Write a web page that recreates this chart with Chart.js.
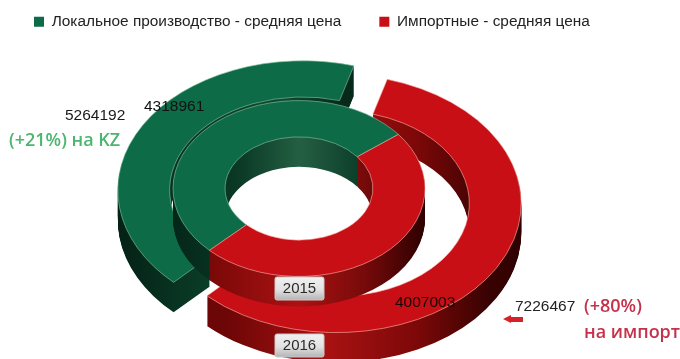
<!DOCTYPE html>
<html lang="ru">
<head>
<meta charset="utf-8">
<title>Средняя цена</title>
<script src="https://cdn.jsdelivr.net/npm/chart.js@4"></script>
<style>
  html, body { margin: 0; padding: 0; background: #fff; }
  #stage { position: relative; width: 680px; height: 359px; overflow: hidden; }
  #stage canvas { position: absolute; left: 0; top: 0; }
</style>
</head>
<body>
<div id="stage">
  <canvas id="ring2016" width="680" height="359"></canvas>
  <canvas id="ring2015" width="680" height="359"></canvas>
</div>
<script>
// Data
const categories = ['Локальное производство - средняя цена', 'Импортные - средняя цена'];
const values2015 = [4318961, 4007003];
const values2016 = [5264192, 7226467];
const yearLabels = ['2015', '2016'];
const changeLocal = ['(+21%) на KZ'];
const changeImport = ['(+80%)', 'на импорт'];

// Look of the solid rings
const GREEN = '#0e6b47', RED = '#c80f16';
const TILT = 0.698;      // vertical squash of the ring plane
const DEPTH = 30;        // height of the walls in px

const wall2016 = [
  [[118, '#031c12'], [215, '#0a3a26'], [300, '#0f4a31'], [360, '#07291b']],
  [[210, '#6d0606'], [310, '#a91212'], [400, '#7d0808'], [470, '#3a0202'], [521, '#2a0000']]
];
const wall2015 = [
  [[173, '#04261a'], [240, '#0b3a26'], [300, '#245f43'], [362, '#0b3d28']],
  [[210, '#7a0808'], [300, '#ab1212'], [365, '#760a0a'], [425, '#2e0000']]
];

function horizontalGradient(ctx, stops) {
  const x0 = stops[0][0], x1 = stops[stops.length - 1][0];
  const g = ctx.createLinearGradient(x0, 0, x1, 0);
  stops.forEach(([x, c]) => g.addColorStop((x - x0) / (x1 - x0), c));
  return g;
}

function flatOptions(fill) {
  return {
    backgroundColor: fill, borderColor: fill, borderWidth: 0, borderAlign: 'center',
    borderJoinStyle: 'round', borderRadius: 0, borderDash: [], borderDashOffset: 0,
    offset: 0, spacing: 0, circular: true
  };
}

// Paints one arc element on the tilted plane, lowered by `drop` px and pushed out by `explode` px
function paintArc(ctx, arc, drop, explode, options) {
  const mid = (arc.startAngle + arc.endAngle) / 2;
  const saved = arc.options;
  ctx.save();
  ctx.translate(arc.x + Math.cos(mid) * explode, arc.y + Math.sin(mid) * explode * TILT + drop);
  ctx.scale(1, TILT);
  ctx.translate(-arc.x, -arc.y);
  if (options) arc.options = options;
  arc.draw(ctx);
  arc.options = saved;
  ctx.restore();
}

const solidRing = {
  id: 'solidRing',
  beforeDatasetsDraw(chart, args, opts) {
    const ctx = chart.ctx;
    const arcs = chart.getDatasetMeta(0).data;
    const walls = opts.walls.map(stops => flatOptions(horizontalGradient(ctx, stops)));
    for (let d = DEPTH; d >= 1; d--) {
      arcs.forEach((arc, i) => paintArc(ctx, arc, d, opts.explode, walls[i]));
    }
    arcs.forEach(arc => paintArc(ctx, arc, 0, opts.explode));
    return false;
  }
};

function putText(ctx, text, x, y, font, color, align) {
  ctx.font = font;
  ctx.fillStyle = color;
  ctx.textAlign = align || 'left';
  ctx.textBaseline = 'middle';
  ctx.fillText(text, x, y);
}

function yearBadge(ctx, text, x, y, w, h) {
  const g = ctx.createLinearGradient(0, y, 0, y + h);
  g.addColorStop(0, '#f1f1f1');
  g.addColorStop(0.55, '#e2e2e2');
  g.addColorStop(1, '#b4b4b4');
  ctx.beginPath();
  ctx.roundRect(x, y, w, h, 2);
  ctx.fillStyle = g;
  ctx.fill();
  ctx.strokeStyle = '#c9c9c9';
  ctx.lineWidth = 1;
  ctx.stroke();
  putText(ctx, text, x + w / 2, y + h / 2 + 0.5, '15px "Liberation Sans"', '#2b2b2b', 'center');
}

// Value labels, year badges and the side notes sit above both rings
const annotations = {
  id: 'annotations',
  afterDraw(chart) {
    const ctx = chart.ctx;
    ctx.save();
    const num = '15.5px "Liberation Sans"';
    yearBadge(ctx, yearLabels[0], 275, 277, 49, 23);
    yearBadge(ctx, yearLabels[1], 275, 334, 49, 23);
    putText(ctx, String(values2016[0]), 65, 116, num, '#1a1a1a');
    putText(ctx, String(values2015[0]), 144, 107, num, '#111');
    putText(ctx, String(values2015[1]), 395, 303, num, '#1a0505');
    putText(ctx, String(values2016[1]), 515, 307, num, '#222');

    const note = '600 18px "Open Sans"';
    putText(ctx, changeLocal[0], 9, 141, note, '#4cb56f');
    putText(ctx, changeImport[0], 584, 307, note, '#c5314a');
    putText(ctx, changeImport[1], 584, 333, note, '#c5314a');

    // small pointer next to the import value
    ctx.fillStyle = '#d2232a';
    ctx.beginPath();
    ctx.moveTo(503, 319);
    ctx.lineTo(511, 315);
    ctx.lineTo(511, 317);
    ctx.lineTo(523, 317);
    ctx.lineTo(523, 322);
    ctx.lineTo(511, 322);
    ctx.lineTo(511, 323);
    ctx.closePath();
    ctx.fill();
    ctx.restore();
  }
};

const commonOptions = {
  responsive: false,
  animation: false,
  events: []
};

function ringDataset(values) {
  return {
    data: values,
    backgroundColor: [GREEN, RED],
    borderColor: ['rgba(130,195,160,0.75)', 'rgba(250,175,165,0.75)'],
    borderWidth: 1
  };
}

new Chart(document.getElementById('ring2016'), {
  type: 'doughnut',
  data: { labels: categories, datasets: [ringDataset(values2016)] },
  plugins: [solidRing],
  options: {
    ...commonOptions,
    rotation: 224.3,
    radius: 185,
    cutout: '72%',
    layout: { padding: { left: -4, right: 41, top: -24, bottom: 5 } },
    plugins: {
      tooltip: { enabled: false },
      solidRing: { walls: wall2016, explode: 19.3 },
      legend: {
        position: 'top',
        align: 'start',
        labels: {
          boxWidth: 10,
          boxHeight: 10,
          padding: 38,
          color: '#222',
          font: { family: '"Liberation Sans"', size: 15.4 },
          generateLabels(chart) {
            return Chart.overrides.doughnut.plugins.legend.labels.generateLabels(chart)
              .map(item => ({ ...item, lineWidth: 0 }));
          }
        }
      }
    }
  }
});

new Chart(document.getElementById('ring2015'), {
  type: 'doughnut',
  data: { labels: categories, datasets: [ringDataset(values2015)] },
  plugins: [solidRing, annotations],
  options: {
    ...commonOptions,
    rotation: 225.3,
    radius: 126,
    cutout: '58.7%',
    layout: { padding: { left: 0, right: 82, top: 18, bottom: 0 } },
    plugins: {
      tooltip: { enabled: false },
      legend: { display: false },
      solidRing: { walls: wall2015, explode: 0 }
    }
  }
});
</script>
</body>
</html>
